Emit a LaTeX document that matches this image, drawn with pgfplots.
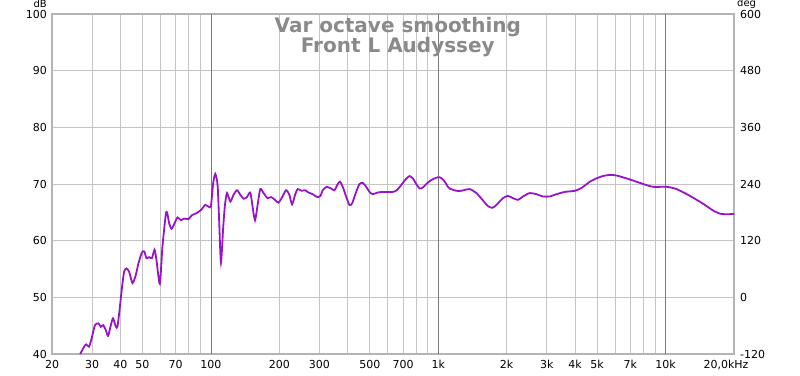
\documentclass[border=0pt]{standalone}
\usepackage{pgfplots}
\pgfplotsset{compat=1.18}
\usepackage{pgfplotstable}
\usepackage{fontspec}
\setmainfont{DejaVu Sans}
\definecolor{trace}{RGB}{152,20,200}
\definecolor{gridl}{RGB}{196,196,196}
\definecolor{gridd}{RGB}{120,120,120}
\definecolor{frame}{RGB}{180,180,180}
\definecolor{titlec}{RGB}{138,138,138}
\pgfplotstableread{
f db
26.6 40.0
27.7 41.3
28.3 41.7
29.1 41.3
29.9 42.8
30.9 45.1
32.0 45.4
32.8 44.8
33.6 45.1
34.5 44.2
35.3 43.2
36.3 45.1
37.1 46.3
38.2 44.8
38.8 44.8
39.5 47.2
40.6 51.6
41.5 54.5
42.5 55.1
43.7 54.5
45.2 52.5
46.7 53.9
48.0 56.0
49.7 57.9
50.9 58.1
52.1 56.9
53.5 57.1
55.0 56.9
56.5 58.4
57.6 56.6
59.6 52.4
61.2 58.9
63.4 64.8
64.4 64.7
65.5 63.1
67.1 62.1
68.9 62.9
71.3 64.1
73.8 63.6
76.3 63.9
79.7 63.8
82.5 64.5
85.9 64.8
90.4 65.4
94.4 66.3
97.6 66.0
100.0 66.1
102.3 70.1
104.5 71.8
107.0 69.8
108.8 63.1
110.7 56.1
113.3 62.5
115.3 66.3
117.7 68.4
121.7 66.9
125.8 68.1
130.2 68.9
134.7 68.1
139.2 67.4
144.1 67.7
149.0 68.5
152.5 66.0
156.3 63.6
160.5 66.3
164.9 69.1
170.5 68.4
177.6 67.5
183.9 67.7
191.5 67.2
198.0 66.7
204.7 67.5
214.0 68.9
221.3 68.1
227.5 66.4
234.6 68.1
240.8 69.1
250.8 68.8
259.7 68.9
268.5 68.5
280.4 68.2
293.2 67.7
303.2 67.9
310.2 68.9
323.1 69.5
337.8 69.2
349.4 68.9
361.4 70.0
370.3 70.4
380.2 69.5
393.4 67.8
406.9 66.3
418.2 66.6
435.4 68.6
450.3 70.0
465.6 70.2
482.0 69.5
498.4 68.6
515.2 68.2
542.0 68.5
570.0 68.6
600.0 68.6
631.0 68.6
657.0 68.9
687.0 69.8
718.0 70.8
748.0 71.4
773.0 71.0
800.0 70.0
828.0 69.2
856.0 69.4
891.0 70.1
932.0 70.7
980.0 71.1
1014.0 71.2
1056.0 70.7
1103.0 69.5
1122.0 69.2
1201.0 68.8
1263.0 68.8
1374.0 69.1
1471.0 68.4
1573.0 67.1
1654.0 66.1
1730.0 65.8
1802.0 66.3
1926.0 67.5
2026.0 67.9
2133.0 67.5
2244.0 67.2
2360.0 67.8
2526.0 68.4
2703.0 68.2
2890.0 67.8
3094.0 67.8
3311.0 68.2
3602.0 68.6
3988.0 68.8
4268.0 69.3
4643.0 70.4
4970.0 71.0
5296.0 71.4
5686.0 71.6
6087.0 71.5
6967.0 70.8
7970.0 70.0
8822.0 69.5
10102.0 69.5
11186.0 69.1
12804.0 67.9
14648.0 66.5
16208.0 65.3
17656.0 64.7
20000.0 64.7
}\datatable
\begin{document}
\begin{tikzpicture}
\useasboundingbox (-52pt,-21pt) rectangle (748pt,354pt);
\begin{axis}[
  at={(0pt,0pt)}, anchor=south west,
  scale only axis, width=682pt, height=340pt,
  xmode=log, xmin=20, xmax=20000, ymin=40, ymax=100,
  log basis x=10,
  xtick={20,30,40,50,70,100,200,300,500,700,1000,2000,3000,4000,5000,7000,10000,20000},
  xticklabels={20,30,40,50,70,100,200,300,500,700,1k,2k,3k,4k,5k,7k,10k,{\hspace*{-16pt}20,0kHz}},
  minor xtick={60,80,90,400,600,800,900,6000,8000,9000},
  extra x ticks={100,1000,10000},
  extra x tick labels={},
  extra x tick style={grid=major, major grid style={draw=gridd, line width=0.8pt}},
  ytick={40,50,60,70,80,90,100},
  grid=both,
  major grid style={draw=gridl, line width=0.8pt},
  minor grid style={draw=gridl, line width=0.8pt},
  major tick length=0pt, minor tick length=0pt,
  axis line style={draw=frame, line width=1.6pt},
  tick label style={font=\fontsize{11}{13}\selectfont},
  /pgf/number format/assume math mode=true,
  xticklabel style={anchor=north, inner sep=0pt, yshift=-6pt},
  yticklabel style={anchor=east, inner sep=0pt, xshift=-5pt},
  clip=true,
]
\addplot[trace, line width=1.8pt, smooth, tension=0.4] table[x=f, y=db] {\datatable};
\node[font=\bfseries\fontsize{20}{22}\selectfont, text=titlec, anchor=base] at (rel axis cs:0.507,1) [yshift=-19pt] {Var octave smoothing};
\node[font=\bfseries\fontsize{20}{22}\selectfont, text=titlec, anchor=base] at (rel axis cs:0.507,1) [yshift=-39pt] {Front L Audyssey};
\end{axis}
\begin{axis}[
  at={(0pt,0pt)}, anchor=south west,
  scale only axis, width=682pt, height=340pt,
  xmin=0, xmax=1, ymin=-120, ymax=600,
  axis x line=none, axis y line*=right,
  y axis line style={draw=none},
  ytick={-120,0,120,240,360,480,600},
  major tick length=0pt,
  tick label style={font=\fontsize{11}{13}\selectfont},
  /pgf/number format/assume math mode=true,
  yticklabel style={anchor=west, inner sep=0pt, xshift=6pt},
]
\end{axis}
\node[font=\fontsize{10}{12}\selectfont, anchor=east, inner sep=0pt] at (-5pt,350pt) {dB};
\node[font=\fontsize{10}{12}\selectfont, anchor=west, inner sep=0pt] at (685pt,350pt) {deg};
\end{tikzpicture}
\end{document}
